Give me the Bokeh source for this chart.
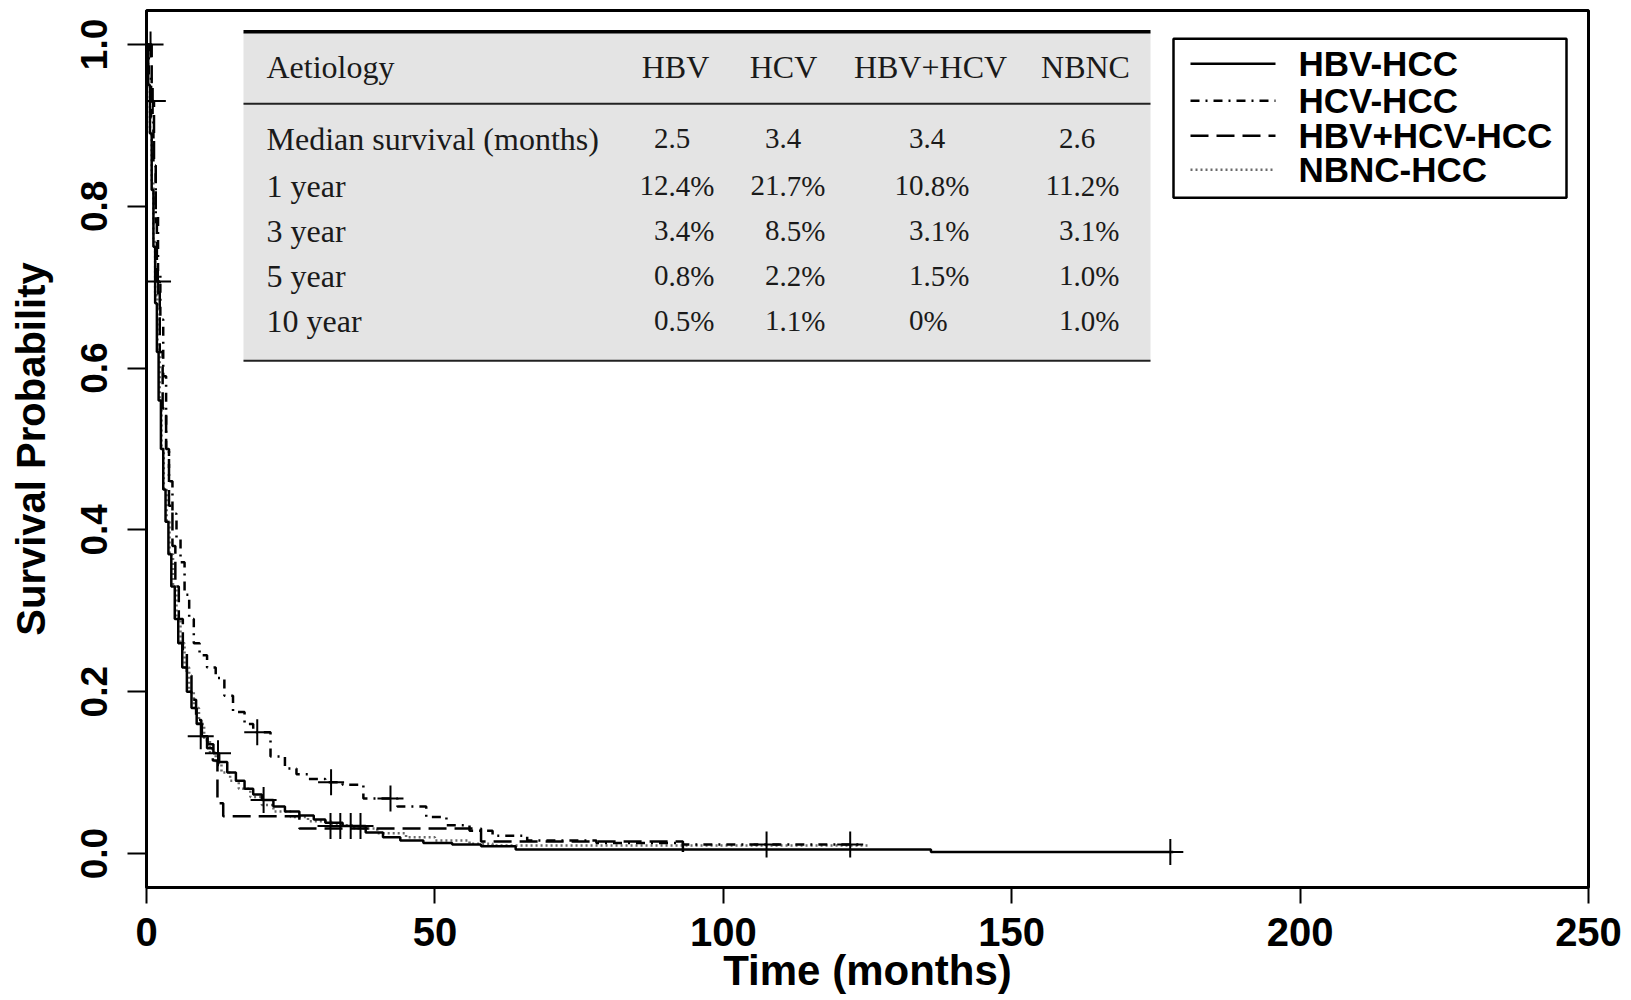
from bokeh.plotting import figure
from bokeh.models import Range1d, FixedTicker, PrintfTickFormatter
from bokeh.embed import file_html
from bokeh.resources import INLINE
from bokeh.core.properties import value

# ---------------- data ----------------
# Kaplan-Meier step curves: time (months) and survival probability after each step
hbv_t = [0, 0.3, 0.6, 0.9, 1.2, 1.5, 1.8, 2.1, 2.5, 2.9, 3.3, 3.8, 4.3, 4.9, 5.5, 6.2, 7.0, 7.8,
         8.7, 9.6, 10.6, 11.6, 12.6, 14, 15.5, 17, 18.5, 20, 22, 24, 26.5, 29, 31, 34, 38, 41,
         44, 48, 53, 58, 64, 136, 178]
hbv_s = [1.0, 0.95, 0.89, 0.82, 0.75, 0.68, 0.62, 0.56, 0.50, 0.45, 0.41, 0.37, 0.33, 0.29, 0.26,
         0.23, 0.20, 0.18, 0.16, 0.145, 0.135, 0.124, 0.113, 0.100, 0.090, 0.080, 0.073, 0.066,
         0.058, 0.052, 0.047, 0.042, 0.038, 0.034, 0.026, 0.020, 0.016, 0.013, 0.011, 0.009,
         0.005, 0.002, 0.002]
hbv_cens_t = [9.4, 12.4, 20.3, 31.9, 33.6, 35.4, 37.1, 177.5]
hbv_cens_s = [0.145, 0.124, 0.066, 0.034, 0.034, 0.034, 0.034, 0.002]

hcv_t = [0, 0.4, 0.8, 1.2, 1.6, 2.0, 2.4, 2.9, 3.4, 3.9, 4.5, 5.2, 5.9, 6.6, 7.4, 8.2, 9.2, 10.5,
         12, 13.5, 15, 17, 18.5, 21.5, 24, 26, 28, 31, 34, 37.6, 43.5, 48.5, 52, 56, 60, 66, 78,
         93, 124]
hcv_s = [1.0, 0.96, 0.91, 0.85, 0.79, 0.72, 0.66, 0.59, 0.50, 0.46, 0.42, 0.39, 0.36, 0.32, 0.29,
         0.26, 0.245, 0.23, 0.217, 0.195, 0.175, 0.16, 0.15, 0.12, 0.105, 0.098, 0.092, 0.088,
         0.085, 0.068, 0.058, 0.045, 0.035, 0.028, 0.022, 0.016, 0.013, 0.011, 0.011]
hcv_cens_t = [19.2, 32.0, 42.3, 107.5, 122.0]
hcv_cens_s = [0.15, 0.088, 0.068, 0.011, 0.011]

hbvhcv_t = [0, 0.9, 1.3, 1.6, 1.8, 2.3, 2.8, 3.4, 3.9, 4.5, 5.0, 5.6, 6.3, 7.0, 7.8, 8.6, 9.5,
            10.5, 11.5, 12.3, 13.3, 26.5, 58, 93]
hbvhcv_s = [1.0, 0.93, 0.85, 0.78, 0.707, 0.62, 0.55, 0.50, 0.43, 0.38, 0.33, 0.29, 0.25, 0.22,
            0.19, 0.165, 0.145, 0.13, 0.115, 0.062, 0.046, 0.031, 0.015, 0.0]
hbvhcv_cens_t = [0.7, 1.1, 2.0]
hbvhcv_cens_s = [1.0, 0.93, 0.707]

nbnc_t = [0, 0.3, 0.6, 0.9, 1.2, 1.5, 1.9, 2.3, 2.6, 3.0, 3.5, 4.0, 4.6, 5.2, 5.9, 6.6, 7.4, 8.2,
          9.1, 10, 11, 12, 13, 14.5, 16, 18, 20, 22, 25, 28, 32, 36, 40, 45, 50, 56, 60, 125]
nbnc_s = [1.0, 0.95, 0.89, 0.83, 0.76, 0.69, 0.62, 0.56, 0.50, 0.45, 0.41, 0.37, 0.33, 0.29, 0.26,
          0.23, 0.20, 0.18, 0.16, 0.14, 0.125, 0.112, 0.10, 0.09, 0.08, 0.07, 0.06, 0.052, 0.045,
          0.040, 0.035, 0.031, 0.025, 0.020, 0.016, 0.012, 0.010, 0.010]

legend_labels = ["HBV-HCC", "HCV-HCC", "HBV+HCV-HCC", "NBNC-HCC"]

x_ticks = [0, 50, 100, 150, 200, 250]
y_ticks = [0.0, 0.2, 0.4, 0.6, 0.8, 1.0]

table_header = ["Aetiology", "HBV", "HCV", "HBV+HCV", "NBNC"]
row_labels = ["Median survival (months)", "1 year", "3 year", "5 year", "10 year"]
median_surv = ["2.5", "3.4", "3.4", "2.6"]
yr1 = ["12.4%", "21.7%", "10.8%", "11.2%"]
yr3 = ["3.4%", "8.5%", "3.1%", "3.1%"]
yr5 = ["0.8%", "2.2%", "1.5%", "1.0%"]
yr10 = ["0.5%", "1.1%", "0%", "1.0%"]
table_rows = [median_surv, yr1, yr3, yr5, yr10]

# ---------------- layout / style ----------------
FRAME_L, FRAME_B = 146.0, 853.0       # picture px of data origin (t=0, S=0)
PX_X, PX_Y = 5.768, 809.3             # px per month, px per unit probability


def dx(px):
    return (px - FRAME_L) / PX_X


def dy(py):
    return (FRAME_B - py) / PX_Y


W, H = 1626, 998
p = figure(width=W, height=H, output_backend="svg", toolbar_location=None,
           x_range=Range1d(0, 250), y_range=Range1d(-0.042, 1.042),
           min_border_left=146, min_border_right=W - 1588, min_border_top=10,
           min_border_bottom=H - 887)
p.background_fill_color = "white"
p.border_fill_color = "white"
p.grid.visible = False
p.outline_line_color = "black"
p.outline_line_width = 3

AX_FONT = "Liberation Sans"
for ax in (p.xaxis[0], p.yaxis[0]):
    ax.axis_line_color = "black"
    ax.axis_line_width = 3
    ax.major_tick_line_color = "black"
    ax.major_tick_line_width = 2
    ax.major_tick_in = 0
    ax.minor_tick_line_color = None
    ax.major_label_text_font = AX_FONT
    ax.major_label_text_font_style = "bold"
    ax.major_label_text_color = "black"
    ax.axis_label_text_font = AX_FONT
    ax.axis_label_text_font_style = "bold"
    ax.axis_label_text_color = "black"

p.xaxis.ticker = FixedTicker(ticks=x_ticks)
p.xaxis.major_tick_out = 16
p.xaxis.major_label_standoff = 14
p.xaxis.major_label_text_font_size = "40px"
p.xaxis.axis_label = "Time (months)"
p.xaxis.axis_label_text_font_size = "42px"
p.xaxis.axis_label_standoff = -2

p.yaxis.ticker = FixedTicker(ticks=y_ticks)
p.yaxis.formatter = PrintfTickFormatter(format="%.1f")
p.yaxis.major_label_orientation = "vertical"
p.yaxis.major_label_text_font_size = "37px"
p.yaxis.major_tick_out = 19
p.yaxis.major_label_standoff = 20
p.yaxis.axis_label = "Survival Probability"
p.yaxis.axis_label_text_font_size = "40px"
p.yaxis.axis_label_standoff = 26

# ---------------- inset table ----------------
TBL_L, TBL_R = dx(243), dx(1150)
TBL_TOP, TBL_HSEP, TBL_BOT = dy(31), dy(103), dy(360)
p.quad(left=[TBL_L], right=[TBL_R], top=[TBL_TOP], bottom=[TBL_BOT],
       fill_color="#e4e4e4", line_color=None)
p.segment(x0=[TBL_L], x1=[TBL_R], y0=[TBL_TOP], y1=[TBL_TOP], line_color="black", line_width=3.5)
p.segment(x0=[TBL_L], x1=[TBL_R], y0=[TBL_HSEP], y1=[TBL_HSEP], line_color="#222222", line_width=1.8)
p.segment(x0=[TBL_L], x1=[TBL_R], y0=[TBL_BOT], y1=[TBL_BOT], line_color="#222222", line_width=2)

SERIF = value("Liberation Serif")
FS = value("32px")
FS_NUM = value("29px")
label_x = dx(266)
head_x = [dx(675), dx(783), dx(930), dx(1085)]
dec_x = [dx(668), dx(779), dx(923), dx(1073)]
head_y = dy(66)
row_y = [dy(138), dy(185), dy(230), dy(275), dy(320)]

p.text(x=[label_x], y=[head_y], text=[table_header[0]], text_font=SERIF, text_font_size=FS,
       text_align="left", text_baseline="alphabetic", text_color="#1a1a1a")
p.text(x=head_x, y=[head_y] * 4, text=table_header[1:], text_font=SERIF, text_font_size=FS,
       text_align="center", text_baseline="alphabetic", text_color="#1a1a1a")
p.text(x=[label_x] * len(row_labels), y=row_y, text=row_labels, text_font=SERIF,
       text_font_size=FS, text_align="left", text_baseline="alphabetic", text_color="#1a1a1a")

int_x, int_y, int_txt, fr_x, fr_y, fr_txt = [], [], [], [], [], []
for ri, row in enumerate(table_rows):
    for ci, s in enumerate(row):
        k = 0
        while k < len(s) and s[k].isdigit():
            k += 1
        int_x.append(dec_x[ci]); int_y.append(row_y[ri]); int_txt.append(s[:k])
        fr_x.append(dec_x[ci]); fr_y.append(row_y[ri]); fr_txt.append(s[k:])
p.text(x=int_x, y=int_y, text=int_txt, text_font=SERIF, text_font_size=FS_NUM,
       text_align="right", text_baseline="alphabetic", text_color="#1a1a1a")
p.text(x=fr_x, y=fr_y, text=fr_txt, text_font=SERIF, text_font_size=FS_NUM,
       text_align="left", text_baseline="alphabetic", text_color="#1a1a1a")

# ---------------- curves ----------------
LW = 2.5
styles = [dict(line_color="black", line_dash="solid"),
          dict(line_color="black", line_dash="9 6 2 6"),
          dict(line_color="black", line_dash="18 8"),
          dict(line_color="#6a6a6a", line_dash="2 3")]

p.step(nbnc_t, nbnc_s, mode="after", line_width=LW, **styles[3])
p.step(hbvhcv_t, hbvhcv_s, mode="after", line_width=LW, **styles[2])
p.step(hcv_t, hcv_s, mode="after", line_width=LW, **styles[1])
p.step(hbv_t, hbv_s, mode="after", line_width=LW, **styles[0])

CS = 26
p.scatter(hbv_cens_t, hbv_cens_s, marker="cross", size=CS, line_color="black", line_width=2)
p.scatter(hcv_cens_t, hcv_cens_s, marker="cross", size=CS, line_color="black", line_width=2)
p.scatter(hbvhcv_cens_t, hbvhcv_cens_s, marker="cross", size=CS, line_color="black", line_width=2)

# ---------------- legend box (drawn) ----------------
LEG_L, LEG_R, LEG_T, LEG_B = dx(1173), dx(1566), dy(38), dy(197)
p.quad(left=[LEG_L], right=[LEG_R], top=[LEG_T], bottom=[LEG_B], fill_color="white",
       line_color="black", line_width=2.5)
leg_rows = [dy(63), dy(100), dy(135), dy(169)]
for i, lab in enumerate(legend_labels):
    p.segment(x0=[dx(1190)], x1=[dx(1275)], y0=[leg_rows[i]], y1=[leg_rows[i]],
              line_width=LW, **styles[i])
p.text(x=[dx(1298)] * 4, y=leg_rows, text=legend_labels, text_font=value(AX_FONT),
       text_font_style="bold", text_font_size=value("35px"), text_align="left",
       text_baseline="middle", text_color="black")

open("out.html", "w").write(file_html(p, INLINE))
